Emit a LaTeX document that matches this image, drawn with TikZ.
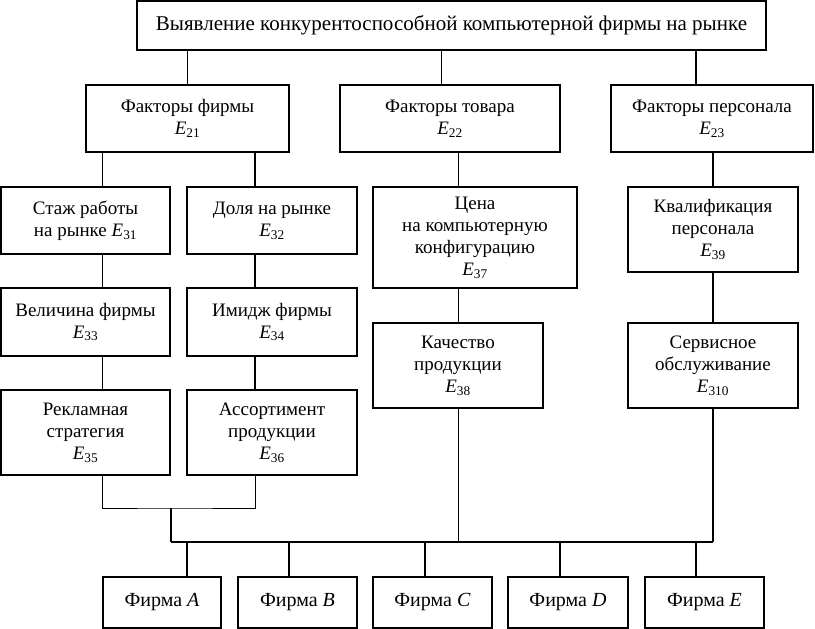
\documentclass[tikz,border=0pt]{standalone}
\usepackage{fontspec}
\setmainfont{Liberation Serif}
\usetikzlibrary{calc,positioning}
\newcommand{\ecode}[1]{\textit{E}\textsubscript{#1}}
\tikzset{
  box/.style={
    draw=black,
    line width=1.4pt,
    inner sep=2pt,
    align=center,
    font=\fontsize{19}{22}\selectfont
  },
  goalbox/.style={
    box,
    font=\fontsize{21}{24}\selectfont
  },
  firmbox/.style={
    box,
    minimum height=51pt,
    font=\fontsize{20}{24}\selectfont
  },
  thinlink/.style={line width=0.7pt},
  thicklink/.style={line width=1.3pt}
}

\begin{document}
\begin{tikzpicture}[x=1pt,y=-1pt]
  \useasboundingbox (0,0) rectangle (815,629);

  % --- Goal ---
  \node[goalbox, minimum width=629pt, minimum height=49pt] (goal) at (451.5,25.5)
    {Выявление конкурентоспособной компьютерной фирмы на рынке};

  % --- Factor groups ---
  \node[box, minimum width=203pt, minimum height=67pt] (f21) at (187.5,118.5)
    {Факторы фирмы\\\ecode{21}};
  \node[box, minimum width=220pt, minimum height=67pt] (f22) at (450,118.5)
    {Факторы товара\\\ecode{22}};
  \node[box, minimum width=202pt, minimum height=67pt] (f23) at (712,118.5)
    {Факторы персонала\\\ecode{23}};

  % --- Firm factors ---
  \node[box, minimum width=169pt, minimum height=67pt] (e31) at (85.5,220.5)
    {Стаж работы\\на рынке \ecode{31}};
  \node[box, minimum width=170pt, minimum height=67pt] (e32) at (272,220.5)
    {Доля на рынке\\\ecode{32}};
  \node[box, minimum width=169pt, minimum height=68pt] (e33) at (85.5,322)
    {Величина фирмы\\\ecode{33}};
  \node[box, minimum width=170pt, minimum height=68pt] (e34) at (272,322)
    {Имидж фирмы\\\ecode{34}};
  \node[box, minimum width=169pt, minimum height=85pt] (e35) at (85.5,432.5)
    {Рекламная\\стратегия\\\ecode{35}};
  \node[box, minimum width=170pt, minimum height=85pt] (e36) at (272,432.5)
    {Ассортимент\\продукции\\\ecode{36}};

  % --- Product factors ---
  \node[box, minimum width=204pt, minimum height=101pt] (e37) at (475,237.5)
    {Цена\\на компьютерную\\конфигурацию\\\ecode{37}};
  \node[box, minimum width=170pt, minimum height=85pt] (e38) at (458,365.5)
    {Качество\\продукции\\\ecode{38}};

  % --- Staff factors ---
  \node[box, minimum width=170pt, minimum height=85pt] (e39) at (713,229.5)
    {Квалификация\\персонала\\\ecode{39}};
  \node[box, minimum width=170pt, minimum height=85pt] (e310) at (713,365.5)
    {Сервисное\\обслуживание\\\ecode{310}};

  % --- Firms ---
  \node[firmbox, minimum width=118pt] (fa) at (162,602.5) {Фирма \textit{A}};
  \node[firmbox, minimum width=119pt] (fb) at (297.5,602.5) {Фирма \textit{B}};
  \node[firmbox, minimum width=119pt] (fc) at (432.5,602.5) {Фирма \textit{C}};
  \node[firmbox, minimum width=120pt] (fd) at (568,602.5) {Фирма \textit{D}};
  \node[firmbox, minimum width=119pt] (fe) at (704.5,602.5) {Фирма \textit{E}};

  % --- Bus coordinates ---
  \coordinate (join) at (171,508);
  \coordinate (busL) at (171,542);
  \coordinate (busR) at (713,542);

  % --- Goal to groups ---
  \draw[thicklink] (f21.north) -- (f21.north |- goal.south);
  \draw[thinlink] ($(f22.north)+(-9,0)$) -- ($(f22.north |- goal.south)+(-9,0)$);
  \draw[thicklink] ($(f23.north)+(-16,0)$) -- ($(f23.north |- goal.south)+(-16,0)$);

  % --- Firm factor columns ---
  \draw[thinlink] ($(f21.south)+(-85.5,0)$) -- ($(e31.north)+(16.5,0)$);
  \draw[thinlink] ($(e31.south)+(16.5,0)$) -- ($(e33.north)+(16.5,0)$);
  \draw[thinlink] ($(e33.south)+(16.5,0)$) -- ($(e35.north)+(16.5,0)$);
  \draw[thicklink] ($(f21.south)+(67.5,0)$) -- ($(e32.north)+(-17,0)$);
  \draw[thicklink] ($(e32.south)+(-17,0)$) -- ($(e34.north)+(-17,0)$);
  \draw[thicklink] ($(e34.south)+(-17,0)$) -- ($(e36.north)+(-17,0)$);
  \draw[thinlink] ($(e35.south)+(16.5,0)$) |- (join) -| ($(e36.south)+(-17,0)$);
  \draw[thicklink] (join) -- (busL);

  % --- Product column ---
  \draw[thinlink] ($(f22.south)+(8,0)$) -- ($(e37.north)+(-17,0)$);
  \draw[thinlink] ($(e37.south)+(-17,0)$) -- (e38.north);
  \draw[thinlink] (e38.south) -- (e38.south |- busL);

  % --- Staff column ---
  \draw[thicklink] ($(f23.south)+(1,0)$) -- (e39.north);
  \draw[thicklink] (e39.south) -- (e310.north);
  \draw[thicklink] (e310.south) -- (busR);

  % --- Bus to firms ---
  \draw[thicklink] (busL) -- (busR);
  \draw[thicklink] ($(fa.north)+(25,0)$) -- ($(fa.north |- busL)+(25,0)$);
  \draw[thicklink] ($(fb.north)+(-8.5,0)$) -- ($(fb.north |- busL)+(-8.5,0)$);
  \draw[thicklink] ($(fc.north)+(-7.5,0)$) -- ($(fc.north |- busL)+(-7.5,0)$);
  \draw[thicklink] ($(fd.north)+(-8,0)$) -- ($(fd.north |- busL)+(-8,0)$);
  \draw[thicklink] ($(fe.north)+(-8.5,0)$) -- ($(fe.north |- busL)+(-8.5,0)$);

\end{tikzpicture}
\end{document}
